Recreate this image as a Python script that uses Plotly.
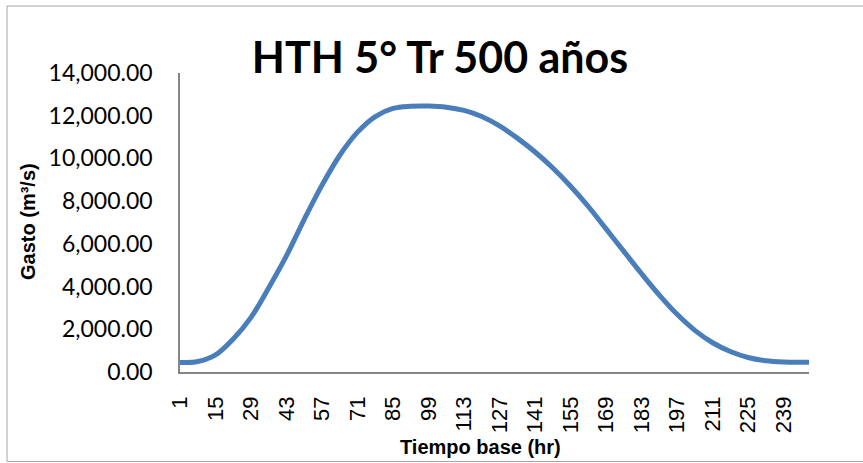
import plotly.graph_objects as go

# Hydrograph samples (hour, discharge m3/s)
hours = [1, 8, 15, 22, 29, 36, 43, 50, 57, 64, 71, 78, 85, 92, 99, 106, 113, 120,
         127, 134, 141, 148, 155, 162, 169, 176, 183, 190, 197, 204, 211, 218,
         225, 232, 239, 246, 249]
gasto = [450, 490, 800, 1550, 2560, 3950, 5450, 7150, 8750, 10150, 11230, 11960,
         12340, 12440, 12450, 12400, 12250, 11960, 11520, 10950, 10300, 9550, 8700,
         7750, 6700, 5650, 4600, 3600, 2700, 1950, 1370, 960, 680, 530, 470, 455, 455]

x_tick_vals = [1, 15, 29, 43, 57, 71, 85, 99, 113, 127, 141, 155, 169, 183, 197, 211, 225, 239]
x_tick_text = [str(v) for v in x_tick_vals]
y_tick_vals = [0, 2000, 4000, 6000, 8000, 10000, 12000, 14000]

title_text = "HTH 5° Tr 500 años"
x_title = "Tiempo base (hr)"
y_title = "Gasto (m³/s)"

W, H = 863, 463
L, R, T, B = 180, 54, 73, 91
pw, ph = W - L - R, H - T - B

fig = go.Figure()
fig.add_trace(go.Scatter(
    x=hours, y=gasto, mode="lines",
    line=dict(color="#4A7EBB", width=5, shape="spline", smoothing=1.0),
    showlegend=False, hoverinfo="skip",
))

def px_x(p):
    return (p - L) / pw

def px_y(p):
    return (H - B - p) / ph

fig.update_layout(
    width=W, height=H,
    margin=dict(l=L, r=R, t=T, b=B),
    paper_bgcolor="white", plot_bgcolor="white",
    title=dict(text="<b>" + title_text + "</b>", x=440 / W, xref="container",
               xanchor="center", y=1 - 58 / H, yref="container", yanchor="middle",
               font=dict(family="Lato", size=43, color="black")),
    xaxis=dict(range=[1, 249], showgrid=False, zeroline=False, showline=True,
               linecolor="#868686", linewidth=1.5, ticks="",
               tickvals=x_tick_vals, ticktext=x_tick_text, tickangle=-90,
               ticklabelstandoff=14,
               tickfont=dict(family="Liberation Sans", size=22, color="black")),
    yaxis=dict(range=[0, 14000], showgrid=False, zeroline=False, showline=True,
               linecolor="#868686", linewidth=1.5, ticks="",
               tickvals=y_tick_vals, tickformat=",.2f", ticklabelstandoff=21,
               tickfont=dict(family="Lato", size=23, color="black")),
    shapes=[dict(type="rect", xref="paper", yref="paper",
                 x0=px_x(7), x1=px_x(875), y0=px_y(461.5), y1=px_y(6),
                 line=dict(color="#A6A6A6", width=1), fillcolor="rgba(0,0,0,0)",
                 layer="below")],
    annotations=[
        dict(text="<b>" + x_title + "</b>", xref="paper", yref="paper",
             x=px_x(480), y=px_y(447), xanchor="center", yanchor="middle",
             showarrow=False, font=dict(family="Liberation Sans", size=20, color="black")),
        dict(text="<b>" + y_title + "</b>", xref="paper", yref="paper",
             x=px_x(28), y=px_y(222), xanchor="center", yanchor="middle",
             textangle=-90, showarrow=False,
             font=dict(family="Liberation Sans", size=20, color="black")),
    ],
)

fig.write_html("out.html", config={"displayModeBar": False},
               post_script="document.body.style.margin='0';document.body.style.overflow='hidden';")
